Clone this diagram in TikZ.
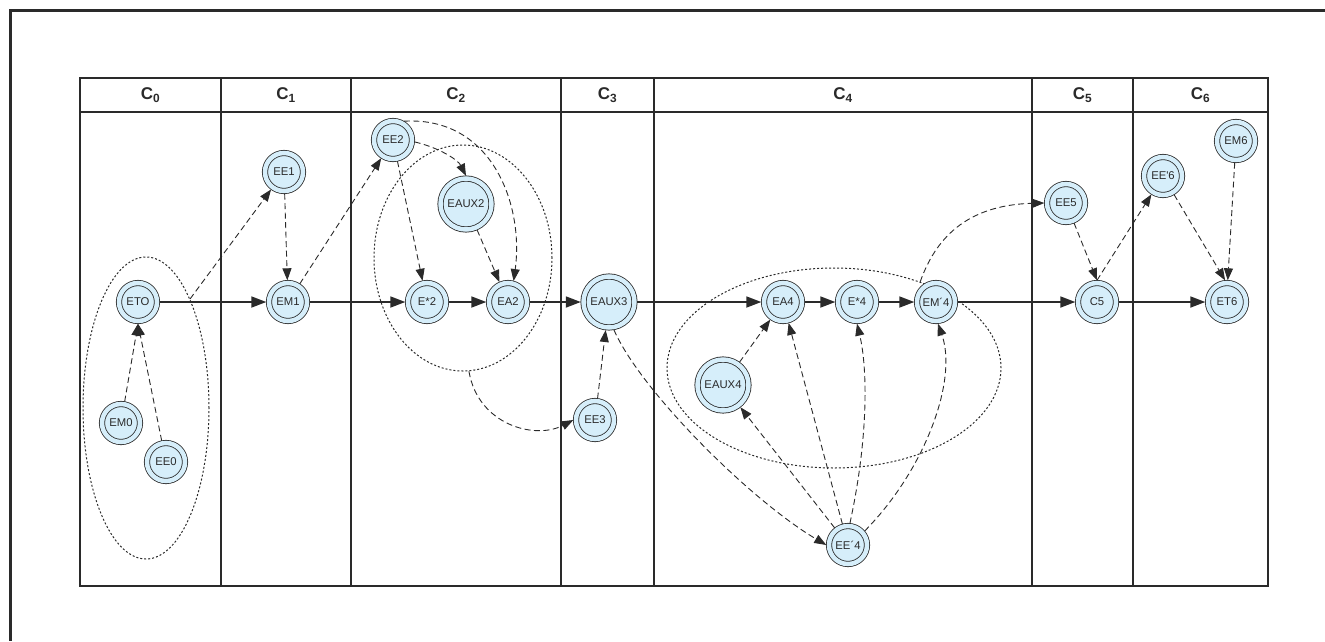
\documentclass[tikz,border=0pt]{standalone}
\usepackage{fontspec}
\setmainfont{Liberation Sans}
\usetikzlibrary{arrows.meta,shapes.geometric}
\definecolor{nodeblue}{HTML}{D6EEFA}
\definecolor{ink}{HTML}{2A2A2A}
\begin{document}
\begin{tikzpicture}[x=1pt,y=-1pt,
 st/.style={circle,draw=ink,line width=0.8pt,double=nodeblue,double distance=4.5pt,fill=nodeblue,minimum size=38pt,inner sep=0pt,outer sep=2.7pt,font=\fontsize{11.3}{13}\selectfont,text=ink},
 big/.style={st,minimum size=51pt},
 main/.style={draw=ink,line width=1.8pt,-{Triangle[length=15pt,width=11pt]}},
 dep/.style={draw=ink,line width=0.9pt,dash pattern=on 6pt off 3.5pt,-{Triangle[length=12pt,width=9pt]}},
 zone/.style={draw=ink,line width=1pt,dash pattern=on 2pt off 2pt,ellipse,inner sep=0pt},
 grid/.style={draw=ink,line width=1.2pt},
 frame/.style={draw=ink,line width=3pt},
 head/.style={font=\fontsize{17}{20}\selectfont\bfseries,text=ink}]
\useasboundingbox (0,0) rectangle (1325,641);
% outer frame
\draw[frame] (1325,10.5) -- (10.5,10.5) -- (10.5,641);
% table
\draw[grid] (80,78) rectangle (1268,586);
\draw[grid] (80,112) -- (1268,112);
\foreach \x in {221,351,561,654,1032,1133} \draw[grid] (\x,78) -- (\x,586);
\node[head] (h0) at (150.5,95) {C\textsubscript{0}};
\node[head] (h1) at (286,95) {C\textsubscript{1}};
\node[head] (h2) at (456,95) {C\textsubscript{2}};
\node[head] (h3) at (607.5,95) {C\textsubscript{3}};
\node[head] (h4) at (843,95) {C\textsubscript{4}};
\node[head] (h5) at (1082.5,95) {C\textsubscript{5}};
\node[head] (h6) at (1200.5,95) {C\textsubscript{6}};
% zones
\node[zone,minimum width=126pt,minimum height=302pt] (z0) at (146,408) {};
\node[zone,minimum width=178pt,minimum height=226pt] (z2) at (463,258) {};
\node[zone,minimum width=334pt,minimum height=200pt] (z4) at (834,368) {};
% nodes
\node[st] (eto) at (138,302) {ETO};
\node[st] (em0) at (121,423) {EM0};
\node[st] (ee0) at (166,462) {EE0};
\node[st] (em1) at (288,302) {EM1};
\node[st] (ee1) at (284,172) {EE1};
\node[st] (ee2) at (393,140) {EE2};
\node[big] (eaux2) at (466,204) {EAUX2};
\node[st] (es2) at (427,302) {E*2};
\node[st] (ea2) at (508,302) {EA2};
\node[big] (eaux3) at (609,302) {EAUX3};
\node[st] (ee3) at (595,420) {EE3};
\node[st] (ea4) at (783,302) {EA4};
\node[st] (es4) at (857,302) {E*4};
\node[st] (em4) at (936,302) {EM´4};
\node[big] (eaux4) at (723,385) {EAUX4};
\node[st] (ee4) at (848,545) {EE´4};
\node[st] (ee5) at (1066,203) {EE5};
\node[st] (c5) at (1097,302) {C5};
\node[st] (ee6) at (1163,176) {EE\textquotesingle6};
\node[st] (em6) at (1236,141) {EM6};
\node[st] (et6) at (1227,302) {ET6};
% main flow
\draw[main] (eto) -- (em1);
\draw[main] (em1) -- (es2);
\draw[main] (es2) -- (ea2);
\draw[main] (ea2) -- (eaux3);
\draw[main] (eaux3) -- (ea4);
\draw[main] (ea4) -- (es4);
\draw[main] (es4) -- (em4);
\draw[main] (em4) -- (c5);
\draw[main] (c5) -- (et6);
% dependencies
\draw[dep] (em0) -- (eto.south);
\draw[dep] (ee0) -- (eto.south);
\draw[dep] (z0.68) -- (ee1);
\draw[dep] (ee1) -- (em1);
\draw[dep] (em1) -- (ee2);
\draw[dep] (ee2) -- (es2);
\draw[dep] (ee2.-5) .. controls (440,148) and (458,160) .. (eaux2.north);
\draw[dep] (ee2.60) .. controls (492,116) and (524,205) .. (ea2.75);
\draw[dep] (eaux2) -- (ea2);
\draw[dep] (z2.-87) .. controls (478,425) and (535,440) .. (ee3.west);
\draw[dep] (ee3) -- (eaux3);
\draw[dep] (eaux3.-80) .. controls (640,390) and (750,500) .. (ee4.west);
\draw[dep] (ee4) -- (eaux4);
\draw[dep] (ee4) -- (ea4);
\draw[dep] (ee4.85) .. controls (868,440) and (868,370) .. (es4.south);
\draw[dep] (ee4.40) .. controls (925,470) and (958,380) .. (em4.-85);
\draw[dep] (eaux4) -- (ea4);
\draw[dep] (z4.45) .. controls (935,240) and (965,205) .. (ee5.west);
\draw[dep] (ee5) -- (c5.north);
\draw[dep] (c5.north) -- (ee6);
\draw[dep] (ee6) -- (et6.95);
\draw[dep] (em6) -- (et6.88);
\end{tikzpicture}
\end{document}
